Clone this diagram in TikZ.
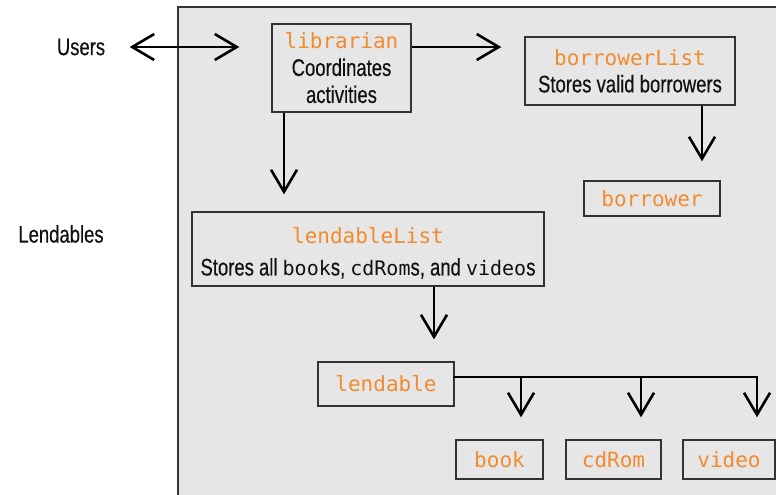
\documentclass[tikz,border=0pt]{standalone}
\usepackage{fontspec}
\setmainfont[FakeStretch=0.77, FakeBold=0.4]{Liberation Sans}
\setmonofont{DejaVu Sans Mono}
\usetikzlibrary{arrows.meta}
\definecolor{cPanel}{HTML}{E6E6E6}
\definecolor{cBorder}{HTML}{333333}
\definecolor{cClass}{HTML}{F28A2E}
\definecolor{cInk}{HTML}{111111}
\newcommand{\cls}[1]{\textcolor{cClass}{\fontsize{21}{27}\selectfont\ttfamily #1}}
\newcommand{\code}[1]{{\fontsize{20}{27}\selectfont\ttfamily #1}}
\tikzset{
  classBox/.style={draw=cBorder, fill=cPanel, line width=1.4pt, align=center,
                   inner sep=0pt, text=cInk, font=\fontsize{24}{27}\selectfont},
  sideLbl/.style={text=cInk, font=\fontsize{24}{27}\selectfont},
  flow/.style={-{Straight Barb[length=22pt,width=26pt]}, line width=2.6pt},
  flowBoth/.style={{Straight Barb[length=22pt,width=26pt]}-{Straight Barb[length=22pt,width=26pt]},
                   line width=2.6pt},
  bus/.style={line width=2.6pt, line cap=rect},
}
\begin{document}
\begin{tikzpicture}[x=1pt, y=-1pt]
\useasboundingbox (0,0) rectangle (776,495);

% ========== SYSTEM PANEL ==========
\fill[cPanel] (178,7) rectangle (776,495);
\draw[cBorder, line width=1.6pt] (178,495) -- (178,7) -- (776,7);

% ========== OUTSIDE ==========
\node[sideLbl] (users) at (81,47) {Users};
\node[sideLbl] (lendables) at (61,234) {Lendables};

% ========== CLASSES ==========
\node[classBox, minimum width=139pt, minimum height=88pt] (librarian) at (341.5,68)
  {\cls{librarian}\\Coordinates\\activities};
\node[classBox, minimum width=210pt, minimum height=68pt] (borrowerList) at (630,71)
  {\cls{borrowerList}\\Stores valid borrowers};
\node[classBox, minimum width=136pt, minimum height=35pt] (borrower) at (652,198.5)
  {\cls{borrower}};
\node[classBox, minimum width=352pt, minimum height=74pt] (lendableList) at (368,249)
  {\rule{0pt}{24pt}\cls{lendableList}\\[5pt]Stores all \code{book}s, \code{cdRom}s, and \code{video}s};
\node[classBox, minimum width=136pt, minimum height=44pt] (lendable) at (386,384)
  {\cls{lendable}};
\node[classBox, minimum width=87pt, minimum height=39pt] (book) at (499.5,459.5) {\cls{book}};
\node[classBox, minimum width=95pt, minimum height=39pt] (cdRom) at (613.5,459.5) {\cls{cdRom}};
\node[classBox, minimum width=92pt, minimum height=39pt] (video) at (729,459.5) {\cls{video}};

% ========== LINKS ==========
\draw[flowBoth, shorten <=21pt, shorten >=32pt] (users.east) -- (users.east -| librarian.west);
\draw[flow, shorten >=23pt] ([yshift=21pt]librarian.east) -- ([yshift=21pt]librarian.east -| borrowerList.west);
\draw[flow, shorten >=17pt] ([xshift=-57.5pt]librarian.south) -- ([xshift=-57.5pt]librarian.south |- lendableList.north);
\draw[flow, shorten >=19pt] ([xshift=72pt]borrowerList.south) -- ([xshift=72pt]borrowerList.south |- borrower.north);
\draw[flow, shorten >=22pt] ([xshift=66pt]lendableList.south) -- ([xshift=66pt]lendableList.south |- lendable.north);

% subclass fan-out
\coordinate (tapBook) at (521,377);
\coordinate (tapCd) at (641,377);
\coordinate (tapVideo) at (757,377);
\draw[bus] ([yshift=7pt]lendable.east) -- (tapVideo);
\foreach \t/\c in {tapBook/book, tapCd/cdRom, tapVideo/video}
  \draw[flow, shorten >=22pt] (\t) -- (\t |- \c.north);

\end{tikzpicture}
\end{document}
